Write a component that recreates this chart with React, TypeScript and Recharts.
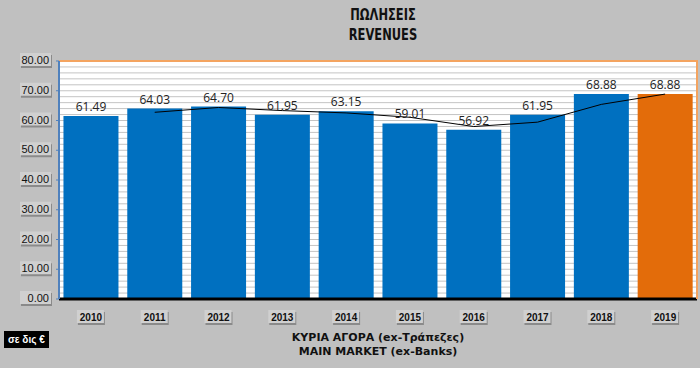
import { ComposedChart, Bar, Line, XAxis, YAxis, CartesianGrid, Cell, LabelList, ReferenceLine } from 'recharts';

const years = ['2010', '2011', '2012', '2013', '2014', '2015', '2016', '2017', '2018', '2019'];
const revenues = [61.49, 64.03, 64.7, 61.95, 63.15, 59.01, 56.92, 61.95, 68.88, 68.88];
// 2-period moving average line as it appears in the picture (starts at 2011)
const trend = [null, 62.76, 64.37, 63.33, 62.55, 61.08, 57.97, 59.44, 65.42, 68.88];
const yTicks = [0, 10, 20, 30, 40, 50, 60, 70, 80];
const gridLines = Array.from({ length: 41 }, (_, i) => i * 2);

const data = years.map((year, i) => ({ year, value: revenues[i], trend: trend[i] }));

const BLUE = '#0070c0';
const ORANGE = '#e36c0a';

const YTick = (props: any) => {
    const { x, y, payload } = props;
    const label = payload.value.toFixed(2);
    return (
        <g>
            <rect x={x - 33} y={y - 6} width={31} height={13} fill="#8a8a8a" />
            <rect x={x - 34} y={y - 8} width={31} height={13} fill="#d0d0d0" />
            <text x={x - 5} y={y + 3} textAnchor="end" fontSize={11} fontFamily="Liberation Sans, Arial" fill="#111">
                {label}
            </text>
        </g>
    );
};

const XTick = (props: any) => {
    const { x, y, payload } = props;
    return (
        <g>
            <rect x={x - 13} y={y + 5} width={27} height={13} fill="#8a8a8a" />
            <rect x={x - 14} y={y + 3} width={27} height={13} fill="#d0d0d0" />
            <text x={x} y={y + 14} textAnchor="middle" fontSize={10} fontWeight="bold" fontFamily="Liberation Sans, Arial" fill="#111">
                {payload.value}
            </text>
        </g>
    );
};

// minor gridlines every 2 units, placed over the plot area
const gridGenerator = (props: any) => {
    const scale = props?.yAxis?.scale;
    if (typeof scale === 'function') return gridLines.map((v) => scale(v));
    const { top, height } = props.offset;
    return gridLines.map((v) => top + height * (1 - v / 80));
};

export default function App() {
    return (
        <div style={{ position: 'absolute', left: 0, top: 0, width: 700, height: 368, background: '#c0c0c0', overflow: 'hidden' }}>
            <div style={{ position: 'absolute', left: 0, width: 766, top: 5, textAlign: 'center', fontFamily: 'DejaVu Sans Condensed, Liberation Sans Narrow, Arial', fontWeight: 'bold', fontSize: 15, lineHeight: '20px', color: '#111', transform: 'scaleX(0.85)' }}>
                ΠΩΛΗΣΕΙΣ
                <br />
                REVENUES
            </div>
            <ComposedChart
                width={700}
                height={368}
                data={data}
                margin={{ top: 61, right: 3, bottom: 0, left: 9 }}
                barCategoryGap="7%"
                style={{ position: 'absolute', left: 0, top: 0 }}
            >
                <CartesianGrid
                    vertical={false}
                    horizontalCoordinatesGenerator={gridGenerator}
                    stroke="#c4c4c4"
                    fill="#ffffff"
                    fillOpacity={1}
                />
                <XAxis
                    dataKey="year"
                    height={69}
                    tick={<XTick />}
                    tickLine={false}
                    axisLine={{ stroke: '#000', strokeWidth: 3 }}
                />
                <YAxis
                    width={50}
                    domain={[0, 80]}
                    ticks={yTicks}
                    tick={<YTick />}
                    tickLine={{ stroke: '#4f81bd' }}
                    tickSize={3}
                    axisLine={{ stroke: '#4f81bd', strokeWidth: 2 }}
                />
                <ReferenceLine y={80} stroke="#f4a460" strokeWidth={2} />
                <Bar dataKey="value" isAnimationActive={false}>
                    {data.map((d, i) => (
                        <Cell key={d.year} fill={i === data.length - 1 ? ORANGE : BLUE} />
                    ))}
                    <LabelList
                        dataKey="value"
                        position="top"
                        offset={5}
                        formatter={(v: any) => Number(v).toFixed(2)}
                        style={{ fontSize: 12, fontFamily: 'Open Sans, Arial', fill: '#222' }}
                    />
                </Bar>
                <Line
                    dataKey="trend"
                    type="linear"
                    stroke="#000"
                    strokeWidth={1}
                    dot={false}
                    connectNulls={false}
                    isAnimationActive={false}
                />
            </ComposedChart>
            <div style={{ position: 'absolute', left: 696, top: 60, width: 2, height: 239, background: '#f4a460' }} />
            <div style={{ position: 'absolute', left: 0, width: 756, top: 331, textAlign: 'center', fontFamily: 'DejaVu Sans, Verdana', fontWeight: 'bold', fontSize: 11, lineHeight: '14px', color: '#111' }}>
                ΚΥΡΙΑ ΑΓΟΡΑ (ex-Τράπεζες)
                <br />
                MAIN MARKET (ex-Banks)
            </div>
            <div style={{ position: 'absolute', left: 4, top: 331, padding: '2px 4px', background: '#000', color: '#fff', fontFamily: 'Liberation Sans, Arial', fontWeight: 'bold', fontSize: 10, lineHeight: '13px' }}>
                σε δις €
            </div>
        </div>
    );
}
